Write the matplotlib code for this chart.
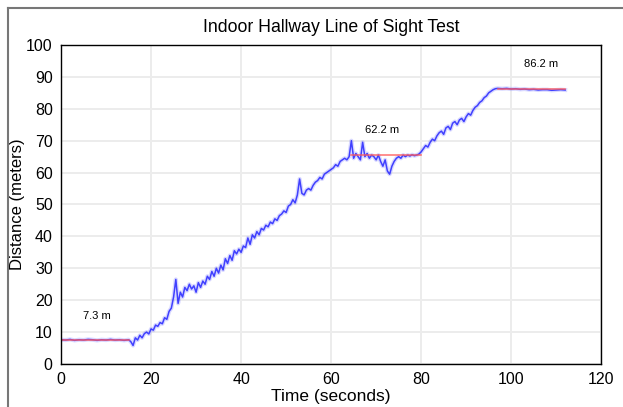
import matplotlib.pyplot as plt
import numpy as np
from matplotlib.lines import Line2D

plt.rcParams['font.family'] = ['Liberation Sans', 'DejaVu Sans']

# measured trace (time in s, distance in m)
t_start = [0, 1, 2, 3, 4, 5, 6, 7, 8, 9, 10, 11, 12, 13, 14, 15]
d_start = [7.6, 7.5, 7.7, 7.4, 7.6, 7.5, 7.7, 7.6, 7.4, 7.6, 7.5, 7.7, 7.5, 7.6, 7.4, 7.6]

t_move = list(np.arange(15.5, 97.01, 0.5))
d_move = [7.0, 5.8, 8.2, 7.5, 9.0, 8.2, 9.5, 10.0, 9.4, 11.0,
          10.6, 12.2, 11.8, 13.0, 12.6, 14.5, 14.0, 16.5, 17.5, 21.0,
          26.5, 19.0, 22.5, 21.0, 24.0, 23.0, 25.0, 23.5, 24.5, 22.5,
          25.5, 24.0, 26.0, 25.0, 27.5, 26.5, 29.0, 27.5, 30.0, 28.5,
          31.0, 29.5, 33.0, 31.5, 34.0, 32.5, 35.5, 34.5, 36.0, 35.0,
          37.0, 36.5, 39.5, 37.5, 40.5, 39.5, 41.5, 40.5, 42.5, 42.0,
          43.5, 43.0, 44.5, 44.0, 45.5, 45.0, 46.5, 47.0, 48.0, 47.5,
          49.5, 50.0, 51.5, 50.5, 53.0, 58.0, 53.5, 53.0, 54.5, 55.0,
          54.5, 56.0, 57.0, 57.5, 58.5, 58.0, 59.5, 60.0, 60.5, 61.0,
          61.5, 62.5, 62.0, 63.5, 64.0, 64.5, 64.0, 65.0, 70.0, 64.5,
          66.0, 65.0, 64.0, 69.5, 65.0, 66.0, 64.5, 65.5, 65.0, 64.0,
          65.5, 63.5, 62.0, 64.0, 60.5, 59.5, 62.0, 63.5, 64.5, 65.0,
          64.5, 65.5, 65.0, 65.5, 65.2, 65.6, 65.3, 65.5, 65.8, 66.5,
          67.5, 68.5, 68.0, 69.5, 70.5, 70.0, 71.5, 72.5, 73.0, 72.0,
          74.0, 74.5, 73.5, 75.5, 76.0, 75.0, 76.5, 77.0, 76.0, 77.5,
          78.5, 78.0, 79.5, 80.5, 81.0, 82.0, 82.5, 83.5, 84.0, 85.0,
          85.5, 86.0, 86.3, 86.4]

t_end = [98, 99, 100, 101, 102, 103, 104, 105, 106, 107, 108, 109, 110, 111, 112]
d_end = [86.3, 86.4, 86.2, 86.3, 86.1, 86.2, 86.0, 86.1, 85.9, 86.0, 86.0, 85.8, 85.9, 86.0, 85.9]

# stationary averages
seg_from = [0, 64.5, 97]
seg_to = [15, 80, 112]
seg_level = [7.4, 65.4, 86.3]
seg_text = ['7.3 m', '62.2 m', '86.2 m']
text_pos = [(4.8, 14), (67.5, 72.5), (102.8, 93)]

t = t_start + t_move + t_end
d = d_start + d_move + d_end

fig = plt.figure(figsize=(6.23, 4.07), dpi=100)
ax = fig.add_axes([0.098, 0.1057, 0.867, 0.7837])

ax.grid(True, color='#ececec', lw=1.4)
ax.set_axisbelow(True)

ax.plot(t, d, color='#8080ff', lw=3.0, alpha=0.3)
ax.plot(t, d, color='#1a1aff', lw=1.1, alpha=0.8)
for a, b, lv in zip(seg_from, seg_to, seg_level):
    ax.plot([a, b], [lv, lv], color='#ff5a5a', lw=1.2, alpha=0.8)
for s, (x, y) in zip(seg_text, text_pos):
    ax.text(x, y, s, fontsize=8)

ax.set_xlim(0, 120)
ax.set_ylim(0, 100)
ax.set_xticks(range(0, 121, 20))
ax.set_yticks(range(0, 101, 10))
ax.tick_params(length=0, labelsize=11.5, pad=6)
for sp in ax.spines.values():
    sp.set_color('black')
    sp.set_linewidth(1.0)

ax.set_xlabel('Time (seconds)', fontsize=12.5, labelpad=1)
ax.set_ylabel('Distance (meters)', fontsize=12, labelpad=1)
fig.text(0.531, 0.933, 'Indoor Hallway Line of Sight Test', fontsize=12.7, ha='center', va='center')

# outer frame
fig.add_artist(Line2D([8/623, 1.01], [1 - 8/407, 1 - 8/407], color='#777777', lw=1.5))
fig.add_artist(Line2D([8/623, 8/623], [-0.01, 1 - 8/407], color='#777777', lw=1.5))

fig.savefig('out.png', dpi=100)
